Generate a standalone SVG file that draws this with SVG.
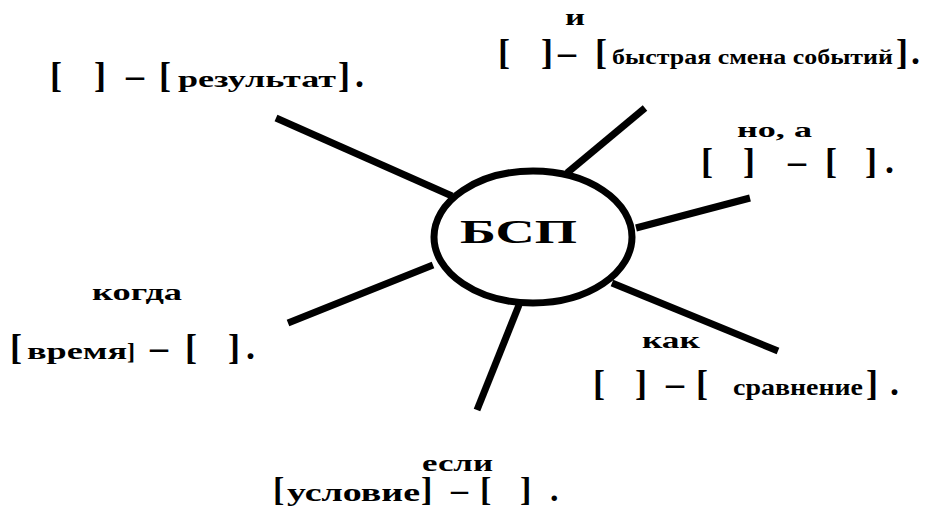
<svg xmlns="http://www.w3.org/2000/svg" width="931" height="509" viewBox="0 0 931 509">
<rect width="931" height="509" fill="#fff"/>
<g id="connectors" stroke="#000" stroke-width="7" fill="none">
<line x1="276" y1="118" x2="452" y2="196"/>
<line x1="567" y1="173" x2="645" y2="108"/>
<line x1="636" y1="228" x2="750" y2="198"/>
<line x1="612" y1="283" x2="778" y2="351"/>
<line x1="519" y1="305" x2="477" y2="410"/>
<line x1="288" y1="323" x2="433" y2="265"/>
</g>
<g id="center">
<ellipse cx="533" cy="237" rx="99" ry="66" fill="#fff" stroke="#000" stroke-width="7"/>
<text x="460" y="243" font-family="Times New Roman" font-weight="bold" font-size="34" textLength="117" lengthAdjust="spacingAndGlyphs">БСП</text>
</g>
<g id="result">
<text x="50" y="87" font-family="Times New Roman" font-weight="bold" font-size="36">[</text>
<text x="94" y="87" font-family="Times New Roman" font-weight="bold" font-size="36">]</text>
<text x="126" y="87" font-family="Times New Roman" font-weight="bold" font-size="36">–</text>
<text x="159" y="87" font-family="Times New Roman" font-weight="bold" font-size="36">[</text>
<text x="178" y="87" font-family="Times New Roman" font-weight="bold" font-size="24" textLength="158" lengthAdjust="spacingAndGlyphs">результат</text>
<text x="338" y="87" font-family="Times New Roman" font-weight="bold" font-size="36">]</text>
<text x="355" y="87" font-family="Times New Roman" font-weight="bold" font-size="36">.</text>
</g>
<g id="and">
<text x="565" y="25" font-family="Times New Roman" font-weight="bold" font-size="24" textLength="20" lengthAdjust="spacingAndGlyphs">и</text>
<text x="498" y="64" font-family="Times New Roman" font-weight="bold" font-size="36">[</text>
<text x="541" y="64" font-family="Times New Roman" font-weight="bold" font-size="36">]</text>
<text x="558" y="64" font-family="Times New Roman" font-weight="bold" font-size="36">–</text>
<text x="595" y="64" font-family="Times New Roman" font-weight="bold" font-size="36">[</text>
<text x="612" y="64" font-family="Times New Roman" font-weight="bold" font-size="20" textLength="281" lengthAdjust="spacingAndGlyphs">быстрая смена событий</text>
<text x="896" y="64" font-family="Times New Roman" font-weight="bold" font-size="36">]</text>
<text x="911" y="64" font-family="Times New Roman" font-weight="bold" font-size="36">.</text>
</g>
<g id="but">
<text x="737" y="137" font-family="Times New Roman" font-weight="bold" font-size="22" textLength="75" lengthAdjust="spacingAndGlyphs">но, а</text>
<text x="701" y="173" font-family="Times New Roman" font-weight="bold" font-size="36">[</text>
<text x="743" y="173" font-family="Times New Roman" font-weight="bold" font-size="36">]</text>
<text x="788" y="173" font-family="Times New Roman" font-weight="bold" font-size="36">–</text>
<text x="825" y="173" font-family="Times New Roman" font-weight="bold" font-size="36">[</text>
<text x="865" y="173" font-family="Times New Roman" font-weight="bold" font-size="36">]</text>
<text x="885" y="173" font-family="Times New Roman" font-weight="bold" font-size="36">.</text>
</g>
<g id="when">
<text x="92" y="300" font-family="Times New Roman" font-weight="bold" font-size="24" textLength="90" lengthAdjust="spacingAndGlyphs">когда</text>
<text x="10" y="359" font-family="Times New Roman" font-weight="bold" font-size="36">[</text>
<text x="27" y="359" font-family="Times New Roman" font-weight="bold" font-size="24" textLength="100" lengthAdjust="spacingAndGlyphs">время</text>
<text x="127" y="359" font-family="Times New Roman" font-weight="bold" font-size="24">]</text>
<text x="150" y="359" font-family="Times New Roman" font-weight="bold" font-size="36">–</text>
<text x="185" y="359" font-family="Times New Roman" font-weight="bold" font-size="36">[</text>
<text x="228" y="359" font-family="Times New Roman" font-weight="bold" font-size="36">]</text>
<text x="246" y="359" font-family="Times New Roman" font-weight="bold" font-size="36">.</text>
</g>
<g id="as">
<text x="642" y="348" font-family="Times New Roman" font-weight="bold" font-size="24" textLength="58" lengthAdjust="spacingAndGlyphs">как</text>
<text x="593" y="395" font-family="Times New Roman" font-weight="bold" font-size="36">[</text>
<text x="635" y="395" font-family="Times New Roman" font-weight="bold" font-size="36">]</text>
<text x="666" y="395" font-family="Times New Roman" font-weight="bold" font-size="36">–</text>
<text x="696" y="395" font-family="Times New Roman" font-weight="bold" font-size="36">[</text>
<text x="733" y="395" font-family="Times New Roman" font-weight="bold" font-size="24" textLength="130" lengthAdjust="spacingAndGlyphs">сравнение</text>
<text x="866" y="395" font-family="Times New Roman" font-weight="bold" font-size="36">]</text>
<text x="890" y="395" font-family="Times New Roman" font-weight="bold" font-size="36">.</text>
</g>
<g id="if">
<text x="422" y="471" font-family="Times New Roman" font-weight="bold" font-size="24" textLength="71" lengthAdjust="spacingAndGlyphs">если</text>
<text x="273" y="501" font-family="Times New Roman" font-weight="bold" font-size="34">[</text>
<text x="287" y="501" font-family="Times New Roman" font-weight="bold" font-size="26" textLength="133" lengthAdjust="spacingAndGlyphs">условие</text>
<text x="421" y="501" font-family="Times New Roman" font-weight="bold" font-size="34">]</text>
<text x="451" y="501" font-family="Times New Roman" font-weight="bold" font-size="34">–</text>
<text x="480" y="501" font-family="Times New Roman" font-weight="bold" font-size="34">[</text>
<text x="520" y="501" font-family="Times New Roman" font-weight="bold" font-size="34">]</text>
<text x="550" y="501" font-family="Times New Roman" font-weight="bold" font-size="34">.</text>
</g>
</svg>
